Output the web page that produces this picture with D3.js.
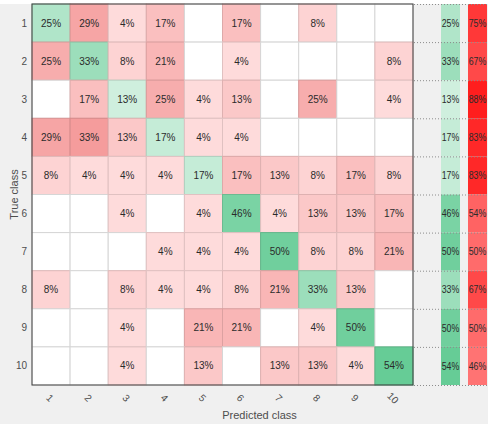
<!DOCTYPE html>
<html>
<head>
<meta charset="utf-8">
<script src="https://cdn.jsdelivr.net/npm/d3@7"></script>
<style>
	body { margin: 0; background: #fff; }
	svg { display: block; font-family: 'Liberation Sans', Arial, sans-serif; }
</style>
</head>
<body>
<div id="chart"></div>
<script>
// Classes and row-normalized percentages (true class rows, predicted class columns)
const classes = ['1', '2', '3', '4', '5', '6', '7', '8', '9', '10'];
const row1 = [25, 29, 4, 17, 0, 17, 0, 8, 0, 0];
const row2 = [25, 33, 8, 21, 0, 4, 0, 0, 0, 8];
const row3 = [0, 17, 13, 25, 4, 13, 0, 25, 0, 4];
const row4 = [29, 33, 13, 17, 4, 4, 0, 0, 0, 0];
const row5 = [8, 4, 4, 4, 17, 17, 13, 8, 17, 8];
const row6 = [0, 0, 4, 0, 4, 46, 4, 13, 13, 17];
const row7 = [0, 0, 0, 4, 4, 4, 50, 8, 8, 21];
const row8 = [8, 0, 8, 4, 4, 8, 21, 33, 13, 0];
const row9 = [0, 0, 4, 0, 21, 21, 0, 4, 50, 0];
const row10 = [0, 0, 4, 0, 13, 0, 13, 13, 4, 54];
const truePositive = [25, 33, 13, 17, 17, 46, 50, 33, 50, 54];
const falseNegative = [75, 67, 88, 83, 83, 54, 50, 67, 50, 46];

const rows = [row1, row2, row3, row4, row5, row6, row7, row8, row9, row10];

const width = 494;
const height = 428;

const svg = d3.select('#chart').append('svg')
				.attr('width', width)
				.attr('height', height);

// Figure background
svg.append('rect')
	.attr('x', 0)
	.attr('y', 4)
	.attr('width', 488)
	.attr('height', 420)
	.attr('fill', '#f0f0f0');

const x = d3.scaleBand().domain(classes).range([32, 413]);
const y = d3.scaleBand().domain(classes).range([4, 385]);
const s = d3.scaleBand().domain(['tpr', 'fnr']).range([441, 487]).paddingInner(0.296);

// Colour scales
const green = d3.scaleLinear().domain([0, 54]).range(['#f0faf5', '#66cc96']).clamp(true);
const red = d3.scaleLinear().domain([0, 33]).range(['#ffe4e4', '#f59c9c']).clamp(true);
const redSummary = d3.scaleLinear().domain([0, 46, 88]).range(['#ffffff', '#ff7373', '#ff1e1e']);

const cells = [];
rows.forEach((r, i) => r.forEach((v, j) => cells.push({ row: classes[i], col: classes[j], v: v, diag: i === j })));

const fillOf = d => {
	if (d.v === 0) return '#ffffff';
	return d.diag ? green(d.v) : red(d.v);
};

// Matrix cells
const cell = svg.append('g').attr('class', 'cells')
				.selectAll('g')
				.data(cells)
				.join('g');

cell.append('rect')
	.attr('x', d => x(d.col))
	.attr('y', d => y(d.row))
	.attr('width', x.bandwidth())
	.attr('height', y.bandwidth())
	.attr('fill', fillOf)
	.attr('stroke', d => d.v === 0 ? '#d6d6d6' : d3.color(fillOf(d)).darker(0.35))
	.attr('stroke-width', 1);

cell.filter(d => d.v > 0).append('text')
	.attr('x', d => x(d.col) + x.bandwidth() / 2)
	.attr('y', d => y(d.row) + y.bandwidth() / 2)
	.attr('text-anchor', 'middle')
	.attr('dominant-baseline', 'central')
	.attr('font-size', 10)
	.attr('fill', '#2b2b2b')
	.text(d => `${d.v}%`);

// Outer border
svg.append('rect')
	.attr('x', 32)
	.attr('y', 4)
	.attr('width', 381)
	.attr('height', 381)
	.attr('fill', 'none')
	.attr('stroke', '#404040')
	.attr('stroke-width', 1);

// Row summary
const summary = [];
classes.forEach((c, i) => {
	summary.push({ row: c, key: 'tpr', v: truePositive[i] });
	summary.push({ row: c, key: 'fnr', v: falseNegative[i] });
});

const sum = svg.append('g').attr('class', 'summary')
				.selectAll('g')
				.data(summary)
				.join('g');

sum.append('rect')
	.attr('x', d => s(d.key))
	.attr('y', d => y(d.row))
	.attr('width', s.bandwidth())
	.attr('height', y.bandwidth())
	.attr('fill', d => d.key === 'tpr' ? green(d.v) : redSummary(d.v));

// Narrow columns squeeze the labels horizontally
sum.append('text')
	.attr('transform', d => `translate(${s(d.key) + s.bandwidth() / 2}, ${y(d.row) + y.bandwidth() / 2}) scale(0.88, 1)`)
	.attr('text-anchor', 'middle')
	.attr('dominant-baseline', 'central')
	.attr('font-size', 10)
	.attr('fill', '#2b2b2b')
	.text(d => `${d.v}%`);

// Dotted row separators in summary area
svg.append('g')
	.selectAll('line')
	.data(classes.map(c => y(c)).concat([385]))
	.join('line')
	.attr('x1', 414)
	.attr('x2', 487)
	.attr('y1', d => d + 0.5)
	.attr('y2', d => d + 0.5)
	.attr('stroke', '#8c8c8c')
	.attr('stroke-width', 1)
	.attr('stroke-dasharray', '1,2');

// Axes labels
svg.append('g')
	.selectAll('text')
	.data(classes)
	.join('text')
	.attr('x', 27)
	.attr('y', d => y(d) + y.bandwidth() / 2)
	.attr('text-anchor', 'end')
	.attr('dominant-baseline', 'central')
	.attr('font-size', 10)
	.attr('fill', '#4d4d4d')
	.text(d => d);

svg.append('g')
	.selectAll('text')
	.data(classes)
	.join('text')
	.attr('transform', d => `translate(${x(d) + x.bandwidth() / 2 - 1}, 398) rotate(45)`)
	.attr('text-anchor', 'middle')
	.attr('dominant-baseline', 'central')
	.attr('font-size', 10)
	.attr('fill', '#4d4d4d')
	.text(d => d);

svg.append('text')
	.attr('x', 259.5)
	.attr('y', 415)
	.attr('text-anchor', 'middle')
	.attr('dominant-baseline', 'central')
	.attr('font-size', 11)
	.attr('fill', '#4d4d4d')
	.text('Predicted class');

svg.append('text')
	.attr('transform', 'translate(14, 194.5) rotate(-90)')
	.attr('text-anchor', 'middle')
	.attr('dominant-baseline', 'central')
	.attr('font-size', 11)
	.attr('fill', '#4d4d4d')
	.text('True class');
</script>
</body>
</html>
